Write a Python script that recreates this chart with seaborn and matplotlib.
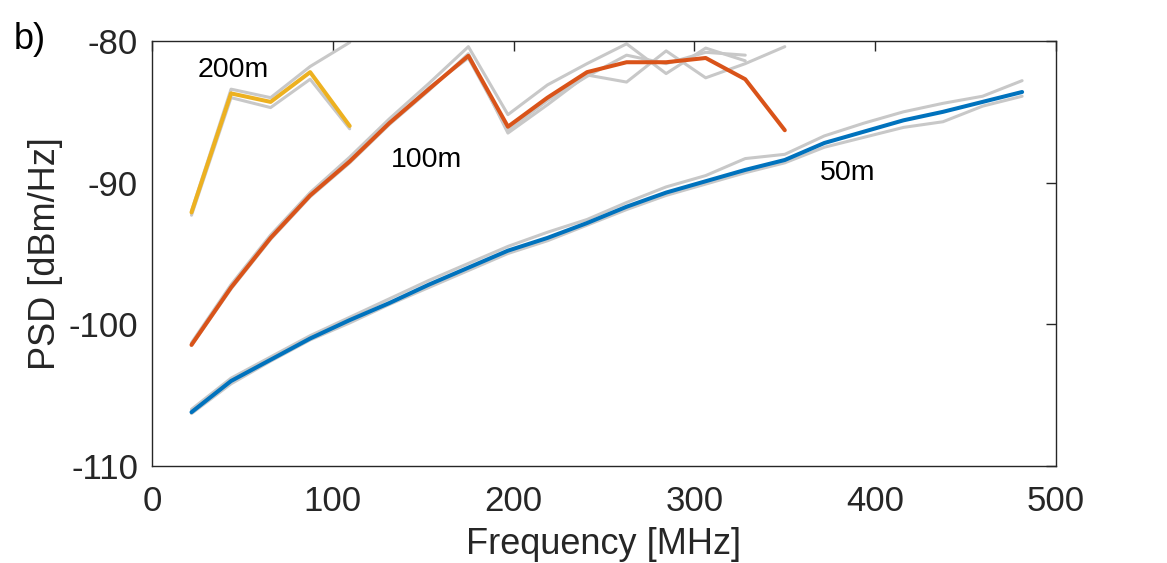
import numpy as np
import pandas as pd
import matplotlib
matplotlib.use("Agg")
import matplotlib.pyplot as plt
import seaborn as sns

# --- Data ---
freq_step = 21.875
freqs = [freq_step * k for k in range(1, 23)]  # MHz

psd_50m = [-106.2, -104.0, -102.5, -101.0, -99.7, -98.5, -97.2, -96.0, -94.8, -93.9,
           -92.85, -91.7, -90.7, -89.9, -89.1, -88.4, -87.2, -86.4, -85.6, -85.0, -84.3, -83.6]
psd_50m_g1 = [-106.0, -103.8, -102.3, -100.8, -99.5, -98.2, -96.9, -95.7, -94.5, -93.5,
              -92.6, -91.4, -90.3, -89.5, -88.3, -88.0, -86.7, -85.8, -85.0, -84.4, -83.9, -82.8]
psd_50m_g2 = [-106.3, -104.2, -102.6, -101.1, -99.9, -98.6, -97.4, -96.2, -95.0, -94.1,
              -93.0, -91.9, -90.9, -90.1, -89.3, -88.6, -87.5, -86.8, -86.1, -85.7, -84.6, -83.9]

psd_100m = [-101.45, -97.4, -93.9, -90.9, -88.5, -85.8, -83.4, -81.05, -86.05, -84.0,
            -82.2, -81.5, -81.5, -81.2, -82.7, -86.3]
psd_100m_g1 = [-101.3, -97.2, -93.7, -90.7, -88.2, -85.5, -83.0, -80.4, -85.2, -83.1,
               -81.6, -80.2, -82.3, -80.5, -81.4]
psd_100m_g2 = [-101.5, -97.5, -94.0, -91.0, -88.6, -85.9, -83.5, -80.9, -86.5, -84.5,
               -82.4, -82.9, -80.7, -82.6, -81.6, -80.4]
psd_100m_g3 = [-101.4, -97.3, -93.9, -90.9, -88.4, -85.8, -83.3, -81.2, -86.3, -84.2,
               -82.5, -81.0, -81.6, -80.8, -81.0]

psd_200m = [-92.1, -83.7, -84.3, -82.2, -86.0]
psd_200m_g1 = [-92.0, -83.4, -84.0, -81.8, -80.1]
psd_200m_g2 = [-92.3, -84.0, -84.7, -82.7, -86.2]

labels = ["200m", "100m", "50m"]
label_pos = [(44.8, -82.05), (152.0, -88.4), (385.0, -89.3)]

gray_series = [psd_50m_g1, psd_50m_g2, psd_100m_g1, psd_100m_g2, psd_100m_g3,
               psd_200m_g1, psd_200m_g2]
main_series = [("50m", psd_50m, "#0072BD"), ("100m", psd_100m, "#D95319"),
               ("200m", psd_200m, "#EDB120")]

# --- Plot ---
sns.set_theme(style="white")
plt.rcParams["font.family"] = ["Liberation Sans", "DejaVu Sans"]
plt.rcParams["axes.unicode_minus"] = False
axcol = "#262626"

fig = plt.figure(figsize=(11.67, 5.63), dpi=100)
ax = fig.add_axes([0.1302, 0.1723, 0.7747, 0.7549])

for g in gray_series:
    df = pd.DataFrame({"f": freqs[:len(g)], "psd": g})
    sns.lineplot(data=df, x="f", y="psd", ax=ax, color="#c8c8c8", linewidth=2.2,
                 sort=False, estimator=None)

for name, vals, col in main_series:
    df = pd.DataFrame({"f": freqs[:len(vals)], "psd": vals})
    sns.lineplot(data=df, x="f", y="psd", ax=ax, color=col, linewidth=2.9,
                 sort=False, estimator=None)

for txt, (x, y) in zip(labels, label_pos):
    ax.text(x, y, txt, ha="center", va="center", fontsize=20.5, color="black")

ax.set_xlim(0, 500)
ax.set_ylim(-110, -80)
ax.set_xticks([0, 100, 200, 300, 400, 500])
ax.set_yticks([-110, -100, -90, -80])
ax.tick_params(direction="in", length=7, width=1, colors=axcol, labelsize=25,
               top=True, right=True)
ax.tick_params(axis="x", pad=14)
ax.tick_params(axis="y", pad=10)
for sp in ax.spines.values():
    sp.set_color(axcol)
    sp.set_linewidth(1.0)
ax.set_xlabel("Frequency [MHz]", fontsize=26, color=axcol, labelpad=6)
ax.set_ylabel("PSD [dBm/Hz]", fontsize=26, color=axcol, labelpad=4)

fig.text(0.012, 0.93, "b)", fontsize=26, color="black", ha="left", va="center")

fig.savefig("out.png", dpi=100)
